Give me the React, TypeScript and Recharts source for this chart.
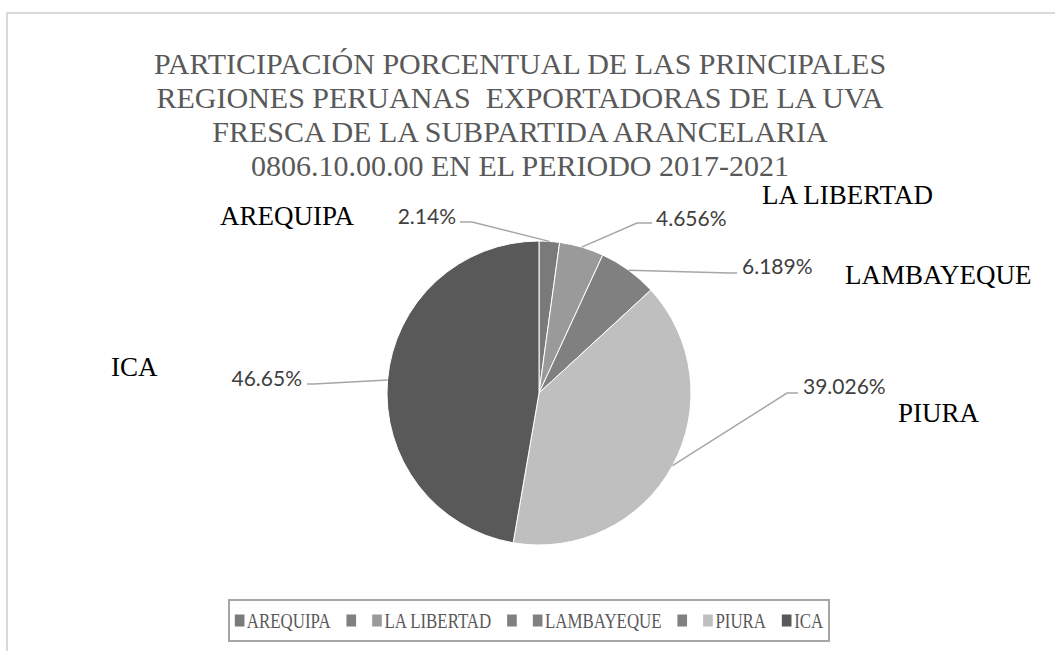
import React, { useLayoutEffect, useRef, useState } from "react";
import { Legend, Pie, PieChart, Cell } from "recharts";

const regions = ["AREQUIPA", "LA LIBERTAD", "LAMBAYEQUE", "PIURA", "ICA"];
const shares = [2.14, 4.656, 6.189, 39.026, 46.65];
const sliceColors = ["#7a7a7a", "#9a9a9a", "#808080", "#bfbfbf", "#595959"];

// legend as it appears in the original (has empty entries)
const legendNames = ["AREQUIPA", "", "LA LIBERTAD", "", "LAMBAYEQUE", "", "PIURA", "ICA"];
const legendColors = ["#7a7a7a", "#808080", "#9a9a9a", "#808080", "#808080", "#808080", "#bfbfbf", "#595959"];

const titleLines = [
  "PARTICIPACIÓN PORCENTUAL DE LAS PRINCIPALES",
  "REGIONES PERUANAS  EXPORTADORAS DE LA UVA",
  "FRESCA DE LA SUBPARTIDA ARANCELARIA",
  "0806.10.00.00 EN EL PERIODO 2017-2021",
];

const data = regions.map((name, i) => ({ name, value: shares[i] }));

// label placement relative to pie centre (dragged labels in the original)
const pctLayout = [
  { x: -83, y: -169, anchor: "end", elbow: [-67, -171], end: [-79, -171] },
  { x: 117, y: -167, anchor: "start", elbow: [98, -170], end: [113, -170] },
  { x: 203, y: -119, anchor: "start", elbow: [191, -120], end: [198, -120] },
  { x: 264, y: 1, anchor: "start", elbow: [248, 0], end: [259, 0] },
  { x: -237, y: -7, anchor: "end", elbow: [-225, -9], end: [-232, -9] },
];
const nameLayout = [
  { x: -319, y: -168 },
  { x: 223, y: -189 },
  { x: 306, y: -109 },
  { x: 359, y: 29 },
  { x: -428, y: -17 },
];

const RAD = Math.PI / 180;

function renderLabel(props: any) {
  const { cx, cy, midAngle, outerRadius, index, value, name } = props;
  const sx = cx + outerRadius * Math.cos(-midAngle * RAD);
  const sy = cy + outerRadius * Math.sin(-midAngle * RAD);
  const p = pctLayout[index];
  const n = nameLayout[index];
  return (
    <g key={`lbl-${index}`}>
      <polyline
        points={`${sx},${sy} ${cx + p.elbow[0]},${cy + p.elbow[1]} ${cx + p.end[0]},${cy + p.end[1]}`}
        fill="none"
        stroke="#a6a6a6"
        strokeWidth={1.5}
      />
      <text
        x={cx + p.x}
        y={cy + p.y}
        textAnchor={p.anchor}
        fontFamily="Lato, 'Open Sans', sans-serif"
        fontSize={21}
        fill="#404040"
      >
        {`${value}%`}
      </text>
      <text
        x={cx + n.x}
        y={cy + n.y}
        fontFamily="'Liberation Serif', serif"
        fontSize={27}
        fill="#000"
      >
        {name}
      </text>
    </g>
  );
}

function LegendBox() {
  const rowRef = useRef<HTMLDivElement>(null);
  const [k, setK] = useState(1);
  useLayoutEffect(() => {
    if (rowRef.current) {
      const w = rowRef.current.scrollWidth;
      if (w > 0) setK(Math.min(1, 588 / w));
    }
  }, []);
  return (
    <div
      style={{
        boxSizing: "border-box",
        width: 602,
        height: 43,
        border: "2px solid #a6a6a6",
        position: "relative",
        overflow: "hidden",
      }}
    >
      <div
        ref={rowRef}
        style={{
          position: "absolute",
          left: "50%",
          top: "50%",
          transform: `translate(-50%, -50%) scaleX(${k})`,
          display: "flex",
          alignItems: "center",
          whiteSpace: "nowrap",
          fontFamily: "'Liberation Serif', serif",
          fontSize: 21,
          color: "#595959",
        }}
      >
        {legendNames.map((n, i) => (
          <span
            key={i}
            style={{ display: "flex", alignItems: "center", marginLeft: i === 0 ? 0 : 20 }}
          >
            <span
              style={{
                display: "inline-block",
                width: 12,
                height: 12,
                background: legendColors[i],
                marginRight: n ? 3 : 0,
              }}
            />
            {n}
          </span>
        ))}
      </div>
    </div>
  );
}

export default function App() {
  return (
    <div
      style={{
        position: "absolute",
        left: 0,
        top: 0,
        width: 1055,
        height: 651,
        background: "#fff",
        overflow: "hidden",
      }}
    >
      <div
        style={{
          position: "absolute",
          left: 6,
          top: 12,
          width: 1055,
          height: 660,
          borderTop: "2px solid #d9d9d9",
          borderLeft: "2px solid #d9d9d9",
        }}
      />
      <div
        style={{
          position: "absolute",
          left: 0,
          top: 47,
          width: 1040,
          textAlign: "center",
          fontFamily: "'Liberation Serif', serif",
          fontSize: 30,
          lineHeight: "34px",
          color: "#595959",
        }}
      >
        {titleLines.map((t, i) => (
          <div key={i} style={{ whiteSpace: "pre" }}>
            {t}
          </div>
        ))}
      </div>
      <div style={{ position: "absolute", left: 0, top: 0 }}>
        <PieChart width={1055} height={651} margin={{ top: 0, right: 0, bottom: 0, left: 0 }}>
          <Pie
            data={data}
            dataKey="value"
            nameKey="name"
            cx={539}
            cy={393}
            outerRadius={152}
            startAngle={90}
            endAngle={-270}
            stroke="#ffffff"
            strokeWidth={1}
            label={renderLabel}
            labelLine={false}
            isAnimationActive={false}
          >
            {data.map((d, i) => (
              <Cell key={d.name} fill={sliceColors[i]} />
            ))}
          </Pie>
          <Legend
            content={() => <LegendBox />}
            wrapperStyle={{ position: "absolute", left: 228, top: 599, width: 602, height: 43 }}
          />
        </PieChart>
      </div>
    </div>
  );
}
